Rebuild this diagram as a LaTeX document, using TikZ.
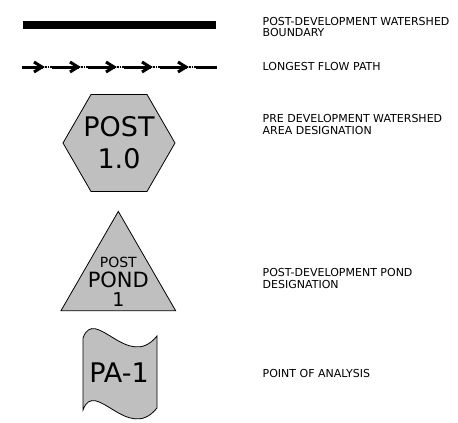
\documentclass[tikz,border=0pt]{standalone}
\usepackage{fontspec}
\setmainfont{DejaVu Sans}
\usetikzlibrary{positioning,shapes.geometric}

\tikzset{
  symbolfill/.style={draw=black, line width=0.8pt, fill=black!25},
  legendtext/.style={anchor=west, align=left, inner sep=0pt,
                     font=\fontsize{11}{11.5}\selectfont},
  flowline/.style={line width=3pt},
}

\begin{document}
\begin{tikzpicture}[x=1pt, y=-1pt]
\useasboundingbox (0,0) rectangle (458,423);

% watershed boundary
\coordinate (wb-start) at (23,25);
\coordinate (wb-end) at (216,25);
\draw[line width=8pt] (wb-start) -- (wb-end);
\node[legendtext] (wb-label) at (262.5,27) {POST-DEVELOPMENT WATERSHED\\BOUNDARY};

% longest flow path
\coordinate (fp-start) at (22,67);
\coordinate (fp-end) at (217,67);
\draw[flowline] (fp-start) -- (fp-end);
\foreach \t in {42,78,114,150,186}{
  \fill[white] (\t+0.5,64) rectangle (\t+10,70);
  \draw[line width=2.4pt, dash pattern=on 1.6pt off 0.9pt] (\t+0.5,67) -- (\t+10,67);
  \draw[flowline, line join=miter] (\t-8,62) -- (\t,67) -- (\t-8,72);
}
\node[legendtext] (fp-label) at (262.5,66.8) {LONGEST FLOW PATH};

% watershed area
\node[regular polygon, regular polygon sides=6, minimum size=112pt,
      inner sep=0pt, symbolfill] (post-hex) at (119,143) {};
\node[align=center, font=\fontsize{27}{32}\selectfont] (post-id) at (post-hex) {POST\\1.0};
\node[legendtext] (area-label) at (262.5,124.4) {PRE DEVELOPMENT WATERSHED\\AREA DESIGNATION};

% pond
\node[regular polygon, regular polygon sides=3, minimum size=132.4pt,
      inner sep=0pt, symbolfill] (pond-tri) at (118.3,277.6) {};
\node[anchor=base, inner sep=0pt, font=\fontsize{14}{14}\selectfont] (pond-top) at (118.3,267) {POST};
\node[anchor=base, inner sep=0pt, font=\fontsize{21}{21}\selectfont] (pond-mid) at (118.3,287) {POND};
\node[anchor=base, inner sep=0pt, font=\fontsize{19}{19}\selectfont] (pond-num) at (118.3,306) {1};
\node[legendtext] (pond-label) at (262.5,278.6) {POST-DEVELOPMENT POND\\DESIGNATION};

% point of analysis
\draw[symbolfill] (83,338) .. controls (95,305) and (128,372) .. (157,336)
  -- (157,408) .. controls (128,444) and (95,377) .. (83,410) -- cycle;
\node[font=\fontsize{27}{32}\selectfont] (pa-id) at (119,373) {PA-1};
\node[legendtext] (pa-label) at (262.5,373.8) {POINT OF ANALYSIS};
\end{tikzpicture}
\end{document}
